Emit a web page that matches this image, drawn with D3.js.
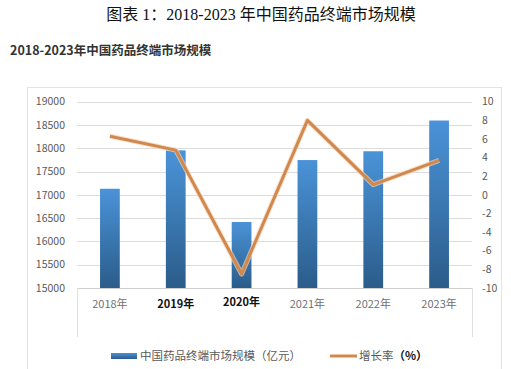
<!DOCTYPE html>
<html>
<head>
<meta charset="utf-8">
<script src="https://cdn.jsdelivr.net/npm/d3@7"></script>
<style>
  html, body { margin: 0; padding: 0; background: #fff; }
  svg { display: block; }
</style>
</head>
<body>
<svg id="chart" width="511" height="369"></svg>
<script>
// Data
const years = ["2018年", "2019年", "2020年", "2021年", "2022年", "2023年"];
const marketSize = [17131, 17955, 16417, 17747, 17936, 18596]; // 亿元
const growthRate = [6.3, 4.8, -8.5, 8.0, 1.1, 3.7];            // %
const boldYears = ["2019年", "2020年"];
const leftTicks = [15000, 15500, 16000, 16500, 17000, 17500, 18000, 18500, 19000];
const rightTicks = [-10, -8, -6, -4, -2, 0, 2, 4, 6, 8, 10];

const CJK = "'Noto Sans CJK SC', 'Noto Sans', sans-serif";
const svg = d3.select("#chart");

// plot area
const plot = { left: 77, right: 472, top: 101.7, bottom: 288 };

const x = d3.scaleBand()
  .domain(years)
  .range([plot.left, plot.right])
  .paddingInner(0.7)
  .paddingOuter(0.35);

const yLeft = d3.scaleLinear().domain([15000, 19000]).range([plot.bottom, plot.top]);
const yRight = d3.scaleLinear().domain([-10, 10]).range([plot.bottom, plot.top]);

// Titles
svg.append("text")
  .attr("x", 261).attr("y", 20)
  .attr("text-anchor", "middle")
  .attr("font-family", "'Liberation Serif', 'Noto Sans CJK SC', serif")
  .attr("font-size", "16px")
  .attr("fill", "#111")
  .text("图表 1：2018-2023 年中国药品终端市场规模");

svg.append("text")
  .attr("x", 10).attr("y", 55)
  .attr("font-family", CJK)
  .attr("font-size", "12.5px")
  .attr("font-weight", "700")
  .attr("fill", "#333")
  .text("2018-2023年中国药品终端市场规模");

// outer chart frame
svg.append("rect")
  .attr("x", 27.5).attr("y", 87.5)
  .attr("width", 474).attr("height", 300)
  .attr("fill", "none")
  .attr("stroke", "#e3e3e3");

// gradient for bars
const defs = svg.append("defs");
const grad = defs.append("linearGradient")
  .attr("id", "barGrad")
  .attr("x1", 0).attr("y1", 0).attr("x2", 0).attr("y2", 1);
grad.append("stop").attr("offset", "0%").attr("stop-color", "#4a93d8");
grad.append("stop").attr("offset", "100%").attr("stop-color", "#2b5c8a");

// gridlines
svg.append("g")
  .selectAll("line")
  .data(leftTicks)
  .join("line")
  .attr("x1", plot.left).attr("x2", plot.right)
  .attr("y1", d => Math.round(yLeft(d)) + 0.5)
  .attr("y2", d => Math.round(yLeft(d)) + 0.5)
  .attr("stroke", d => d === 15000 ? "#cfcfcf" : "#dcdcdc");

// category label box sides
[plot.left, plot.right].forEach(px => {
  svg.append("line")
    .attr("x1", px + 0.5).attr("x2", px + 0.5)
    .attr("y1", plot.bottom).attr("y2", 337)
    .attr("stroke", "#e0e0e0");
});

// left axis labels
svg.append("g")
  .selectAll("text")
  .data(leftTicks)
  .join("text")
  .attr("x", 65)
  .attr("y", d => yLeft(d))
  .attr("dy", "0.35em")
  .attr("text-anchor", "end")
  .attr("font-family", CJK)
  .attr("font-size", "10.5px")
  .attr("fill", "#595959")
  .text(d => d);

// right axis labels
svg.append("g")
  .selectAll("text")
  .data(rightTicks)
  .join("text")
  .attr("x", 482)
  .attr("y", d => yRight(d))
  .attr("dy", "0.35em")
  .attr("font-family", CJK)
  .attr("font-size", "10.5px")
  .attr("fill", "#595959")
  .text(d => d);

// bars
svg.append("g")
  .selectAll("rect")
  .data(years)
  .join("rect")
  .attr("x", d => x(d))
  .attr("width", x.bandwidth())
  .attr("y", (d, i) => yLeft(marketSize[i]))
  .attr("height", (d, i) => plot.bottom - yLeft(marketSize[i]))
  .attr("fill", "url(#barGrad)");

// growth line
const line = d3.line()
  .x((d, i) => x(years[i]) + x.bandwidth() / 2)
  .y(d => yRight(d));

svg.append("path")
  .datum(growthRate)
  .attr("d", line)
  .attr("fill", "none")
  .attr("stroke", "#f3d2b3")
  .attr("stroke-width", 5)
  .attr("stroke-linejoin", "round")
  .attr("opacity", 0.7);

svg.append("path")
  .datum(growthRate)
  .attr("d", line)
  .attr("fill", "none")
  .attr("stroke", "#d2884c")
  .attr("stroke-width", 3)
  .attr("stroke-linejoin", "round");

// x labels
svg.append("g")
  .selectAll("text")
  .data(years)
  .join("text")
  .attr("x", d => x(d) + x.bandwidth() / 2)
  .attr("y", d => d === "2020年" ? 306 : 308)
  .attr("text-anchor", "middle")
  .attr("font-family", CJK)
  .attr("font-size", "11px")
  .attr("font-weight", d => boldYears.includes(d) ? "700" : "400")
  .attr("fill", d => boldYears.includes(d) ? "#111" : "#707070")
  .text(d => d);

// legend
const lg = svg.append("g");
lg.append("rect")
  .attr("x", 111).attr("y", 353)
  .attr("width", 26).attr("height", 6)
  .attr("fill", "url(#barGrad)");
lg.append("text")
  .attr("x", 140).attr("y", 356)
  .attr("dy", "0.35em")
  .attr("font-family", CJK)
  .attr("font-size", "11.5px")
  .attr("fill", "#595959")
  .text("中国药品终端市场规模（亿元）");

lg.append("line")
  .attr("x1", 330).attr("x2", 357)
  .attr("y1", 356).attr("y2", 356)
  .attr("stroke", "#d2884c")
  .attr("stroke-width", 3);
const t2 = lg.append("text")
  .attr("x", 359).attr("y", 356)
  .attr("dy", "0.35em")
  .attr("font-family", CJK)
  .attr("font-size", "11.5px")
  .attr("fill", "#595959");
t2.append("tspan").text("增长率");
t2.append("tspan").attr("font-weight", "700").attr("fill", "#111").text("（%）");
</script>
</body>
</html>
